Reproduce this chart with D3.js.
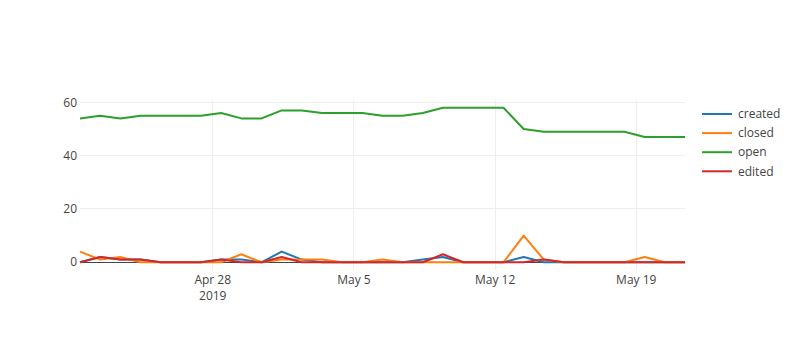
<!DOCTYPE html>
<html>
<head>
<meta charset="utf-8">
<script src="https://cdn.jsdelivr.net/npm/d3@7"></script>
<style>
  html, body { margin: 0; padding: 0; background: #fff; }
  svg { display: block; font-family: "Open Sans", verdana, arial, sans-serif; }
</style>
</head>
<body>
<svg id="chart" width="800" height="350"></svg>
<script>
// Daily issue activity, one sample per day
const dates = [
  "2019-04-21T10:00Z","2019-04-22T10:00Z","2019-04-23T10:00Z","2019-04-24T10:00Z",
  "2019-04-25T10:00Z","2019-04-26T10:00Z","2019-04-27T10:00Z","2019-04-28T10:00Z",
  "2019-04-29T10:00Z","2019-04-30T10:00Z","2019-05-01T10:00Z","2019-05-02T10:00Z",
  "2019-05-03T10:00Z","2019-05-04T10:00Z","2019-05-05T10:00Z","2019-05-06T10:00Z",
  "2019-05-07T10:00Z","2019-05-08T10:00Z","2019-05-09T10:00Z","2019-05-10T10:00Z",
  "2019-05-11T10:00Z","2019-05-12T10:00Z","2019-05-13T10:00Z","2019-05-14T10:00Z",
  "2019-05-15T10:00Z","2019-05-16T10:00Z","2019-05-17T10:00Z","2019-05-18T10:00Z",
  "2019-05-19T10:00Z","2019-05-20T10:00Z","2019-05-21T10:00Z"
];
const created = [0,2,1,1,0,0,0,1,1,0,4,1,0,0,0,0,0,1,2,0,0,0,2,0,0,0,0,0,0,0,0];
const closed  = [4,1,2,0,0,0,0,0,3,0,1,1,1,0,0,1,0,0,0,0,0,0,10,1,0,0,0,0,2,0,0];
const open    = [54,55,54,55,55,55,55,56,54,54,57,57,56,56,56,55,55,56,58,58,58,58,50,49,49,49,49,49,47,47,47];
const edited  = [0,2,1,1,0,0,0,1,0,0,2,0,0,0,0,0,0,0,3,0,0,0,0,1,0,0,0,0,0,0,0];

const seriesNames  = ["created", "closed", "open", "edited"];
const seriesColors = ["#1f77b4", "#ff7f0e", "#2ca02c", "#d62728"];
const seriesValues = [created, closed, open, edited];

const xTickDates  = ["2019-04-28", "2019-05-05", "2019-05-12", "2019-05-19"];
const xTickLabels = [["Apr 28", "2019"], ["May 5"], ["May 12"], ["May 19"]];
const yTicks = [0, 20, 40, 60];

const W = 800, H = 350;
const margin = { top: 100, right: 115, bottom: 80, left: 80 };
const pw = W - margin.left - margin.right;
const ph = H - margin.top - margin.bottom;

const times = dates.map(d => new Date(d));
const x = d3.scaleUtc().domain(d3.extent(times)).range([0, pw]);

// y range padded 5% on each side of the data extent
const allVals = seriesValues.flat();
const yMin = d3.min(allVals), yMax = d3.max(allVals);
const pad = (yMax - yMin) * 0.05;
const y = d3.scaleLinear().domain([yMin - pad, yMax + pad]).range([ph, 0]);

const svg = d3.select("#chart");
const g = svg.append("g").attr("transform", `translate(${margin.left},${margin.top})`);

// grid
const xTicks = xTickDates.map(d => new Date(d + "T00:00Z"));
g.append("g").selectAll("line").data(xTicks).join("line")
  .attr("x1", d => x(d)).attr("x2", d => x(d))
  .attr("y1", 0).attr("y2", ph)
  .attr("stroke", "#eee").attr("stroke-width", 1)
  .attr("shape-rendering", "crispEdges");
g.append("g").selectAll("line").data(yTicks.filter(v => v !== 0)).join("line")
  .attr("x1", 0).attr("x2", pw)
  .attr("y1", d => y(d)).attr("y2", d => y(d))
  .attr("stroke", "#eee").attr("stroke-width", 1)
  .attr("shape-rendering", "crispEdges");
// zero line
g.append("line")
  .attr("x1", 0).attr("x2", pw)
  .attr("y1", y(0)).attr("y2", y(0))
  .attr("stroke", "#444").attr("stroke-width", 1)
  .attr("shape-rendering", "crispEdges");

// y tick labels
g.append("g").selectAll("text").data(yTicks).join("text")
  .attr("x", -3).attr("y", d => y(d)).attr("dy", "0.35em")
  .attr("text-anchor", "end")
  .attr("font-size", 12).attr("fill", "#444")
  .text(d => d);

// x tick labels (first tick carries the year on a second line)
const xl = g.append("g").selectAll("text").data(xTicks).join("text")
  .attr("x", d => x(d)).attr("y", ph + 14)
  .attr("text-anchor", "middle")
  .attr("font-size", 12).attr("fill", "#444");
xl.each(function(d, i) {
  const t = d3.select(this);
  xTickLabels[i].forEach((s, j) => {
    t.append("tspan").attr("x", x(d)).attr("dy", j === 0 ? 0 : 16).text(s);
  });
});

// lines
const line = d3.line()
  .x((d, i) => x(times[i]))
  .y(d => y(d));
const plot = g.append("g");
seriesValues.forEach((vals, s) => {
  plot.append("path")
    .datum(vals)
    .attr("d", line)
    .attr("fill", "none")
    .attr("stroke", seriesColors[s])
    .attr("stroke-width", 2)
    .attr("stroke-linejoin", "round");
});

// legend
const lg = svg.append("g").attr("transform", `translate(${margin.left + pw + 17},114)`);
seriesNames.forEach((name, i) => {
  const row = lg.append("g").attr("transform", `translate(0,${i * 19.1})`);
  row.append("line")
    .attr("x1", 0).attr("x2", 30).attr("y1", 0).attr("y2", 0)
    .attr("stroke", seriesColors[i]).attr("stroke-width", 2);
  row.append("text")
    .attr("x", 36).attr("y", 0).attr("dy", "0.35em")
    .attr("font-size", 12).attr("fill", "#444")
    .text(name);
});
</script>
</body>
</html>
